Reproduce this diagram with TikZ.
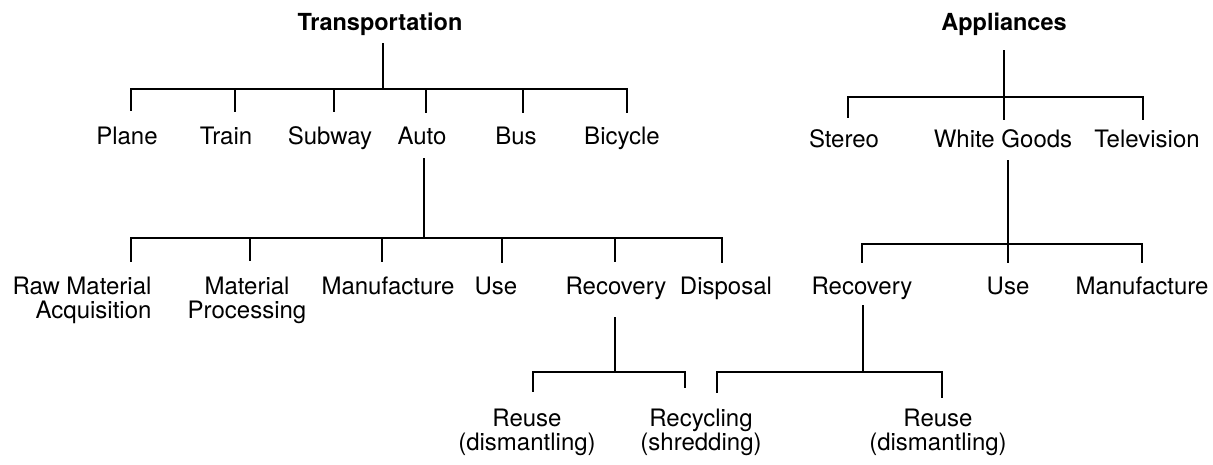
\documentclass[tikz,border=0pt]{standalone}
\usepackage{fontspec}
\setmainfont{TeX Gyre Heros}
\begin{document}
\begin{tikzpicture}[x=1pt,y=-1pt,
  lbl/.style={anchor=base,inner sep=0pt,font=\fontsize{24}{24}\selectfont,align=center},
  ttl/.style={lbl,font=\fontsize{23.5}{24}\selectfont\bfseries},
  link/.style={line width=1.8pt,line join=miter}]
\useasboundingbox (0,0) rectangle (1213,464);

% ---------------- Transportation tree ----------------
% (multi-line labels are placed by the baseline of their last line)
\node[ttl] (trans) at (380,30) {Transportation};
\node[lbl] (plane) at (127,144) {Plane};
\node[lbl] (train) at (226,144) {Train};
\node[lbl] (subway) at (330,144) {Subway};
\node[lbl] (auto) at (422,144) {Auto};
\node[lbl] (bus) at (516,144) {Bus};
\node[lbl] (bicycle) at (622,144) {Bicycle};

\coordinate (transTop) at (383,43);
\coordinate (transJ) at (383,89);
\coordinate (planeT) at (131,111);
\coordinate (trainT) at (235,112);
\coordinate (subwayT) at (334,112);
\coordinate (autoT) at (426,113);
\coordinate (busT) at (523,113);
\coordinate (bicycleT) at (627,113);
\draw[link] (transTop) -- (transJ);
\foreach \c in {planeT,trainT,subwayT,autoT,busT,bicycleT}
  \draw[link] (transJ) -| (\c);

% life-cycle stages of the auto
\node[lbl,align=right] (raw) at (82,318) {Raw Material\\Acquisition};
\node[lbl] (matproc) at (247,318) {Material\\Processing};
\node[lbl] (manuT) at (388,294) {Manufacture};
\node[lbl] (useT) at (496,294) {Use};
\node[lbl] (recT) at (616,294) {Recovery};
\node[lbl] (disp) at (726,294) {Disposal};

\coordinate (autoTop) at (424,158);
\coordinate (autoJ) at (424,238);
\coordinate (rawT) at (131,262);
\coordinate (matprocT) at (250,261);
\coordinate (manuTT) at (382,262);
\coordinate (useTT) at (502,263);
\coordinate (recTT) at (615,262);
\coordinate (dispT) at (722,263);
\draw[link] (autoTop) -- (autoJ);
\foreach \c in {rawT,matprocT,manuTT,useTT,recTT,dispT}
  \draw[link] (autoJ) -| (\c);

% recovery options for the auto
\node[lbl] (reuseT) at (527,450) {Reuse\\(dismantling)};
\node[lbl] (recyc) at (701,450) {Recycling\\(shredding)};

\coordinate (recTTop) at (615,317);
\coordinate (recTJ) at (615,372);
\coordinate (reuseTT) at (533,392);
\coordinate (recycTT) at (685,388);
\draw[link] (recTTop) -- (recTJ);
\foreach \c in {reuseTT,recycTT}
  \draw[link] (recTJ) -| (\c);

% ---------------- Appliances tree ----------------
\node[ttl] (appl) at (1004,30) {Appliances};
\node[lbl] (stereo) at (844,147) {Stereo};
\node[lbl] (white) at (1003,147) {White Goods};
\node[lbl] (tv) at (1147,147) {Television};

\coordinate (applTop) at (1004,50);
\coordinate (applJ) at (1004,97);
\coordinate (stereoT) at (848,118);
\coordinate (whiteT) at (1004,120);
\coordinate (tvT) at (1143,120);
\draw[link] (applTop) -- (applJ);
\foreach \c in {stereoT,whiteT,tvT}
  \draw[link] (applJ) -| (\c);

% life-cycle stages of white goods
\node[lbl] (recA) at (862,294) {Recovery};
\node[lbl] (useA) at (1008,294) {Use};
\node[lbl] (manuA) at (1142,294) {Manufacture};

\coordinate (whiteTop) at (1008,160);
\coordinate (whiteJ) at (1008,244);
\coordinate (recAT) at (862,263);
\coordinate (useAT) at (1008,263);
\coordinate (manuAT) at (1142,263);
\draw[link] (whiteTop) -- (whiteJ);
\foreach \c in {recAT,useAT,manuAT}
  \draw[link] (whiteJ) -| (\c);

% recovery options for white goods
\node[lbl] (reuseA) at (938,450) {Reuse\\(dismantling)};

\coordinate (recATop) at (863,305);
\coordinate (recAJ) at (863,372);
\coordinate (recycAT) at (717,393);
\coordinate (reuseAT) at (942,398);
\draw[link] (recATop) -- (recAJ);
\foreach \c in {recycAT,reuseAT}
  \draw[link] (recAJ) -| (\c);
\end{tikzpicture}
\end{document}
